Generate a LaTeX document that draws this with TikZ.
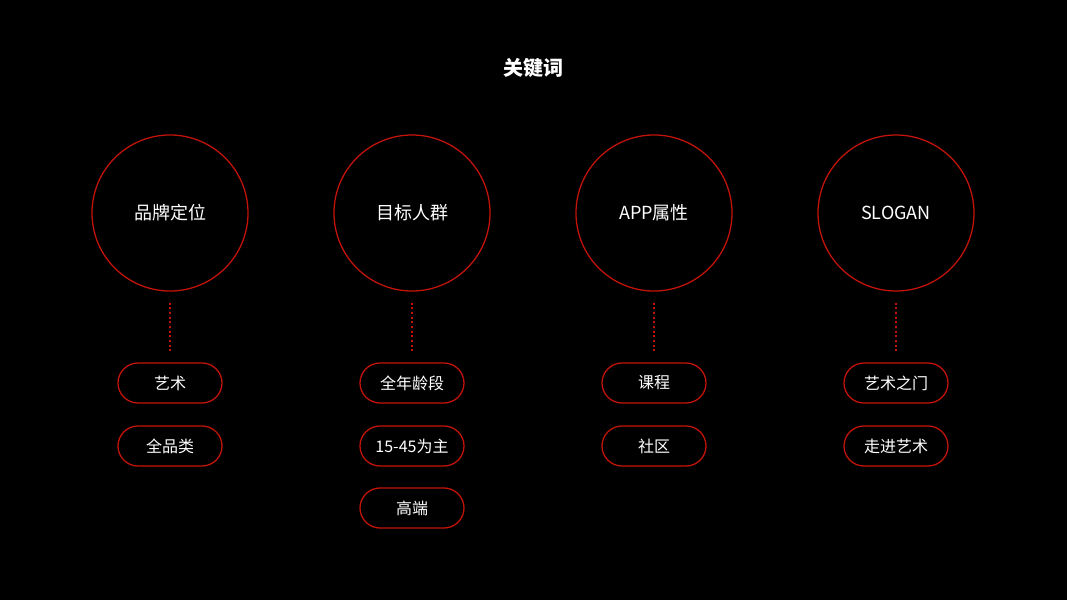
\documentclass[tikz,border=0pt]{standalone}
\usepackage{fontspec}
\usetikzlibrary{shapes.misc}
\setmainfont{Noto Sans CJK SC}
\definecolor{redline}{RGB}{196,20,10}
\begin{document}
\begin{tikzpicture}[x=0.75pt,y=-0.75pt,
  bigcircle/.style={circle,draw=redline,line width=0.95pt,minimum size=156*0.75pt,inner sep=0pt,text=white,font=\fontsize{13.5}{16}\selectfont},
  pill/.style={rounded rectangle,draw=redline,line width=0.95pt,minimum width=104*0.75pt,minimum height=40*0.75pt,inner sep=0pt,text=white,font=\fontsize{12}{14}\selectfont},
  link/.style={draw=redline,line width=0.8pt,dash pattern=on 1.5pt off 2pt}]
\useasboundingbox[fill=black] (0,0) rectangle (1067,600);
\node[text=white,font=\bfseries\fontsize{15}{18}\selectfont] (title) at (533,68) {关键词};
\node[bigcircle] (c1) at (170,213) {品牌定位};
\node[bigcircle] (c2) at (412,213) {目标人群};
\node[bigcircle] (c3) at (654,213) {APP属性};
\node[bigcircle] (c4) at (896,213) {SLOGAN};
\node[pill] (p11) at (170,383) {艺术};
\node[pill] (p12) at (170,446) {全品类};
\node[pill] (p21) at (412,383) {全年龄段};
\node[pill] (p22) at (412,446) {15-45为主};
\node[pill] (p23) at (412,508) {高端};
\node[pill] (p31) at (654,383) {课程};
\node[pill] (p32) at (654,446) {社区};
\node[pill] (p41) at (896,383) {艺术之门};
\node[pill] (p42) at (896,446) {走进艺术};
\foreach \i in {1,2,3,4}{
  \coordinate (a\i) at ([yshift=-11*0.75pt]c\i.south);
  \coordinate (b\i) at ([yshift=9*0.75pt]p\i1.north);
  \path[link] (a\i) -- (b\i);
}
\end{tikzpicture}
\end{document}
